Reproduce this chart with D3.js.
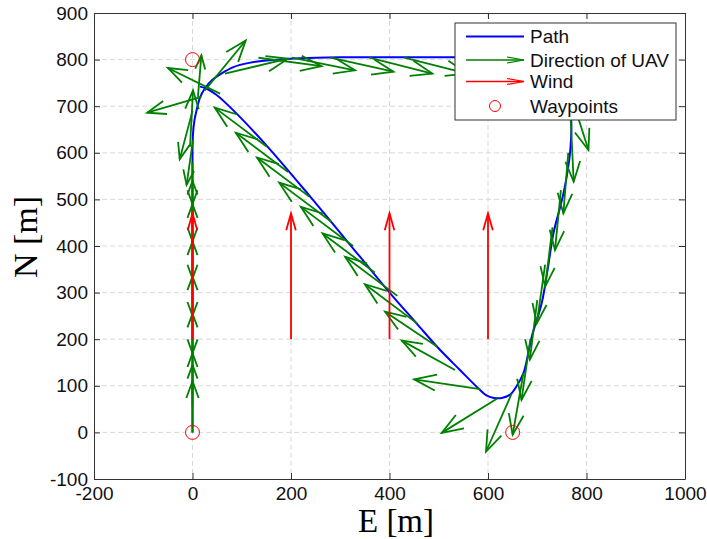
<!DOCTYPE html>
<html>
<head>
<meta charset="utf-8">
<script src="https://cdn.jsdelivr.net/npm/d3@7"></script>
<style>
  body { margin: 0; background: #fff; }
  text { font-family: "Liberation Sans", Arial, sans-serif; }
  .axis text { font-size: 19px; fill: #111; }
  .axis path, .axis line { stroke: #333; }
  .grid line { stroke: #d9d9d9; stroke-dasharray: 5,3; }
</style>
</head>
<body>
<div id="chart"></div>
<script>
// ticks
var xTicks = [-200, 0, 200, 400, 600, 800, 1000];
var yTicks = [-100, 0, 100, 200, 300, 400, 500, 600, 700, 800, 900];

// flown path (E, N)
var pathE = [0, 0, 0, 0, 1, 4, 8, 15, 25, 40, 60, 83, 115, 150, 218, 300, 400, 530, 620, 690, 735, 760, 769, 767, 760, 750, 733, 722, 709, 689, 672, 658, 645, 628, 612, 596, 580, 543, 499, 455, 401, 340, 239, 150, 83, 49, 28, 15];
var pathN = [0, 200, 400, 600, 640, 670, 690, 718, 738, 756, 771, 784, 793, 798, 803, 805, 805, 805, 804, 795, 770, 730, 670, 605, 550, 498, 428, 356, 277, 206, 127, 99, 81, 74, 74, 80, 95, 134, 181, 234, 299, 377, 506, 616, 691, 724, 738, 742];

// direction of UAV (tail E, tail N, dE, dN)
var uavE = [0, 0, 0, 0, 0, 0, 0, 0, 0, 0, 0, 0, 0, -5, 11, 25, 18, 56, 0, 1, 66, 134, 202, 280, 359, 430, 765, 768, 763, 748, 731, 716, 700, 686, 672, 648, 618, 584, 533, 497, 456, 416, 370, 326, 282, 237, 194, 151];
var uavN = [0, 55, 80, 165, 245, 320, 400, 450, 260, 340, 420, 500, 580, 613, 720, 734, 720, 727, 690, 627, 770, 804, 804, 804, 804, 804, 735, 670, 600, 520, 440, 360, 284, 200, 127, 83, 72, 93, 134, 184, 234, 293, 343, 400, 452, 506, 559, 613];
var uavDE = [0, 0, 0, 0, 0, 0, 0, 0, 0, 0, 0, 0, 0, 6, 7, 83, -110, -106, -26, -13, 128, 128, 128, 128, 128, 128, 39, 6, -10, -12, -15, -17, -15, -18, -22, -52, -112, -134, -108, -106, -106, -106, -106, -106, -106, -106, -106, -106];
var uavDN = [110, 90, 90, 90, 90, 90, 90, 90, -90, -90, -90, -90, -90, 121, 89, 107, -34, 55, -104, -96, 32, -18, -27, -30, -34, -34, -129, -132, -130, -129, -127, -126, -128, -130, -132, -124, -73, 21, 63, 75, 84, 84, 84, 84, 84, 84, 84, 84];

// wind
var windE = [0, 200, 400, 600];
var windN = [200, 200, 200, 200];
var windDE = [0, 0, 0, 0];
var windDN = [270, 270, 270, 270];

// waypoints
var wpE = [0, 0, 650];
var wpN = [0, 800, 0];

var legendLabels = ["Path", "Direction of UAV", "Wind", "Waypoints"];

const GREEN = "#008000";
const BLUE = "#0000ff";
const RED = "#ff0000";

var width = 707, height = 539;
var mLeft = 94, mRight = 685, mTop = 13, mBottom = 479;

var svg = d3.select("#chart").append("svg")
  .attr("width", width)
  .attr("height", height);

var x = d3.scaleLinear().domain([-200, 1000]).range([mLeft, mRight]);
var y = d3.scaleLinear().domain([-100, 900]).range([mBottom, mTop]);

// grid
var grid = svg.append("g").attr("class", "grid");
grid.selectAll(".gx")
  .data(xTicks.slice(1, -1))
  .enter().append("line")
  .attr("x1", (d) => x(d)).attr("x2", (d) => x(d))
  .attr("y1", mTop).attr("y2", mBottom);
grid.selectAll(".gy")
  .data(yTicks.slice(1, -1))
  .enter().append("line")
  .attr("x1", mLeft).attr("x2", mRight)
  .attr("y1", (d) => y(d)).attr("y2", (d) => y(d));

// plot content
var plot = svg.append("g");

var line = d3.line()
  .x((d, i) => x(pathE[i]))
  .y((d, i) => y(pathN[i]))
  .curve(d3.curveCatmullRom.alpha(0.5));

plot.append("path")
  .attr("d", line(pathE))
  .attr("fill", "none")
  .attr("stroke", BLUE)
  .attr("stroke-width", 2);

function drawQuiver(g, E, N, dE, dN, color, headFrac, widthFrac, lw) {
  E.forEach((e, i) => {
    let x0 = x(e), y0 = y(N[i]);
    let x1 = x(e + dE[i]), y1 = y(N[i] + dN[i]);
    let dx = x1 - x0, dy = y1 - y0;
    let len = Math.sqrt(dx * dx + dy * dy);
    let ux = dx / len, uy = dy / len;
    let hl = headFrac * len, hw = widthFrac * len;
    let bx = x1 - hl * ux, by = y1 - hl * uy;
    g.append("line")
      .attr("x1", x0).attr("y1", y0)
      .attr("x2", x1).attr("y2", y1)
      .attr("stroke", color).attr("stroke-width", lw);
    g.append("polyline")
      .attr("points", [
        [bx - hw * uy, by + hw * ux],
        [x1, y1],
        [bx + hw * uy, by - hw * ux],
      ].map((p) => p.join(",")).join(" "))
      .attr("fill", "none")
      .attr("stroke", color).attr("stroke-width", lw);
  });
}

drawQuiver(plot.append("g"), uavE, uavN, uavDE, uavDN, GREEN, 0.33, 0.12, 1.8);
drawQuiver(plot.append("g"), windE, windN, windDE, windDN, RED, 0.135, 0.038, 1.8);

plot.selectAll(".wp")
  .data(wpE)
  .enter().append("circle")
  .attr("cx", (d) => x(d))
  .attr("cy", (d, i) => y(wpN[i]))
  .attr("r", 7)
  .attr("fill", "none")
  .attr("stroke", RED)
  .attr("stroke-width", 1);

// axes, ticks inward on all four sides
var fmt = (d) => String(d);
svg.append("g").attr("class", "axis")
  .attr("transform", `translate(0,${mBottom})`)
  .call(d3.axisBottom(x).tickValues(xTicks).tickSizeInner(-6).tickSizeOuter(0).tickPadding(8).tickFormat(fmt));
svg.append("g").attr("class", "axis")
  .attr("transform", `translate(${mLeft},0)`)
  .call(d3.axisLeft(y).tickValues(yTicks).tickSizeInner(-6).tickSizeOuter(0).tickPadding(6).tickFormat(fmt));
svg.append("g").attr("class", "axis")
  .attr("transform", `translate(0,${mTop})`)
  .call(d3.axisTop(x).tickValues(xTicks).tickSizeInner(-6).tickSizeOuter(0).tickFormat(""));
svg.append("g").attr("class", "axis")
  .attr("transform", `translate(${mRight},0)`)
  .call(d3.axisRight(y).tickValues(yTicks).tickSizeInner(-6).tickSizeOuter(0).tickFormat(""));

// axis labels
svg.append("text")
  .attr("x", 396).attr("y", 532)
  .attr("text-anchor", "middle")
  .style("font-family", "'Liberation Serif', 'DejaVu Serif', serif")
  .style("font-size", "33px")
  .text("E [m]");
svg.append("text")
  .attr("transform", "translate(37,237) rotate(-90)")
  .attr("text-anchor", "middle")
  .style("font-family", "'Liberation Serif', 'DejaVu Serif', serif")
  .style("font-size", "34px")
  .text("N [m]");

// legend
var legend = svg.append("g").attr("transform", "translate(455,23)");
legend.append("rect")
  .attr("width", 221).attr("height", 97)
  .attr("fill", "#fff")
  .attr("stroke", "#333")
  .attr("stroke-width", 1);

var rowY = [13.5, 37, 58.5, 83];
legend.selectAll(".lbl")
  .data(legendLabels)
  .enter().append("text")
  .attr("x", 75)
  .attr("y", (d, i) => rowY[i])
  .attr("dy", "0.35em")
  .style("font-size", "19px")
  .style("fill", "#111")
  .text((d) => d);

legend.append("line")
  .attr("x1", 11).attr("x2", 69)
  .attr("y1", rowY[0]).attr("y2", rowY[0])
  .attr("stroke", BLUE).attr("stroke-width", 2);

[GREEN, RED].forEach((c, k) => {
  let ly = rowY[k + 1];
  legend.append("line")
    .attr("x1", 11).attr("x2", 69)
    .attr("y1", ly).attr("y2", ly)
    .attr("stroke", c).attr("stroke-width", 1.5);
  legend.append("polyline")
    .attr("points", `52,${ly - 3} 69,${ly} 52,${ly + 3}`)
    .attr("fill", "none")
    .attr("stroke", c).attr("stroke-width", 1.2);
});

legend.append("circle")
  .attr("cx", 40).attr("cy", rowY[3])
  .attr("r", 5.5)
  .attr("fill", "none")
  .attr("stroke", RED)
  .attr("stroke-width", 1);
</script>
</body>
</html>
